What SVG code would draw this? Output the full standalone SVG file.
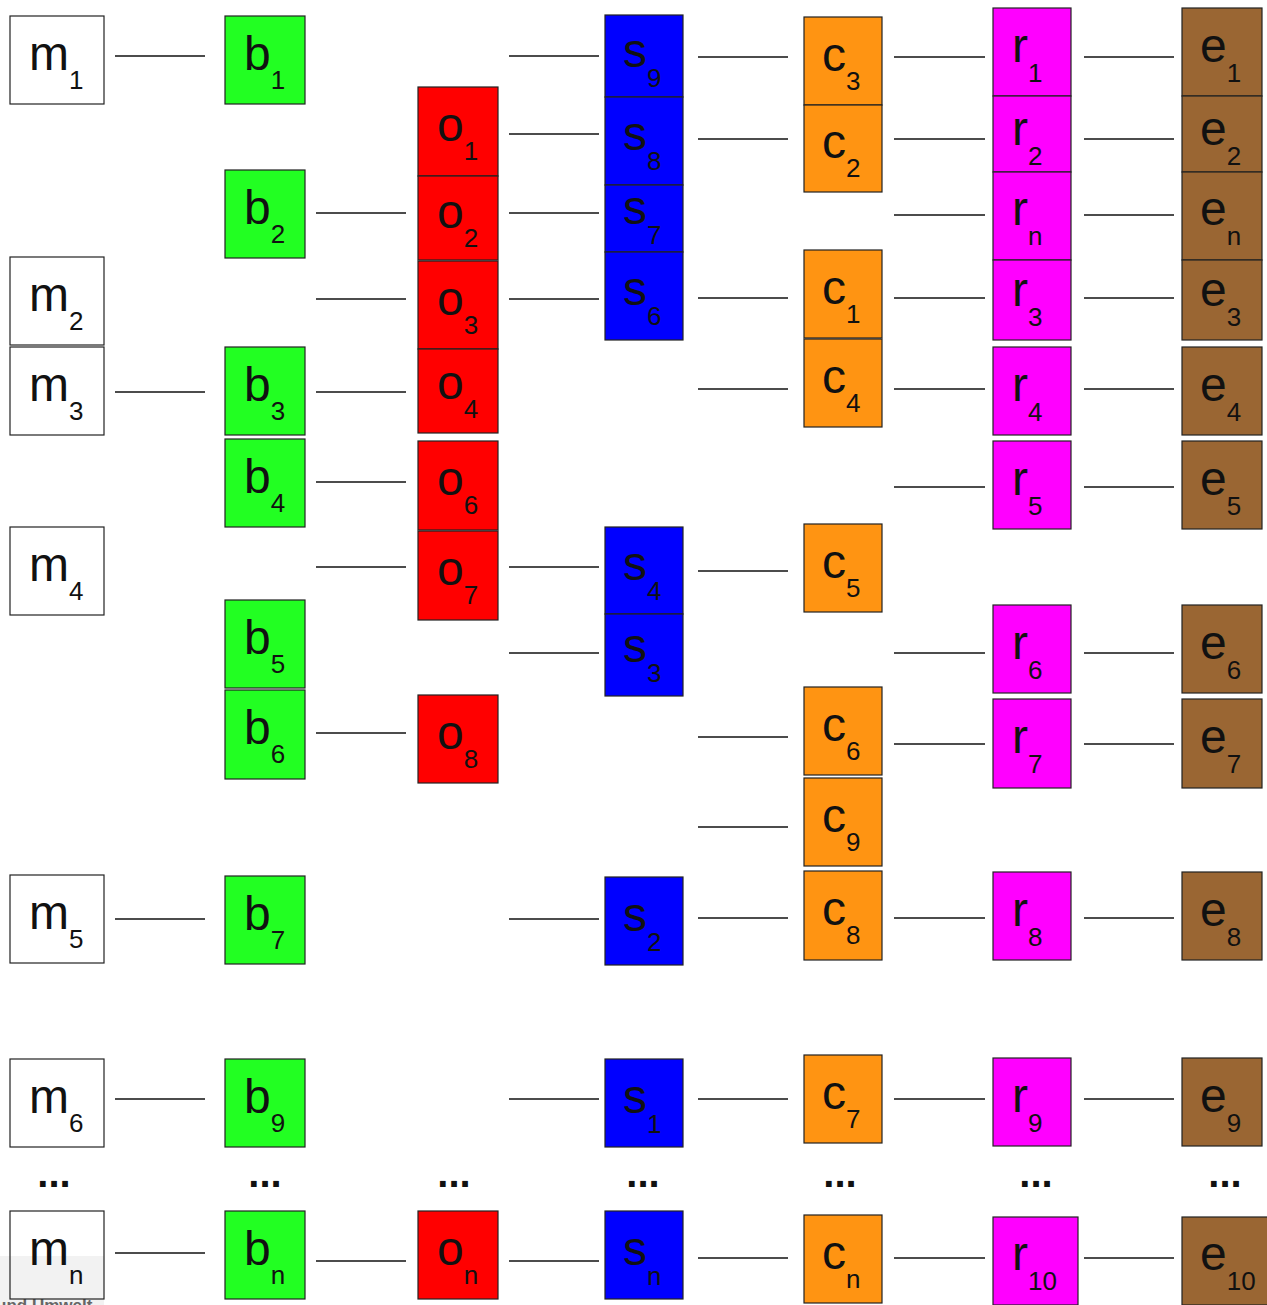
<svg xmlns="http://www.w3.org/2000/svg" width="1267" height="1305" viewBox="0 0 1267 1305">
<style>
.bx{stroke:#222;stroke-width:1.2}
.m{fill:#ffffff}
.b{fill:#22ff22}
.o{fill:#ff0000}
.s{fill:#0000ff}
.c{fill:#ff9412}
.r{fill:#ff00ff}
.e{fill:#9a6633}
.t{font-family:"Liberation Sans",Arial,sans-serif;font-size:48px;fill:#111}
.sb{font-size:26px}
.dots{font-family:"Liberation Sans",Arial,sans-serif;font-size:40px;font-weight:bold;fill:#111;text-anchor:middle}
#connectors line{stroke:#111;stroke-width:1.3}
</style>
<rect width="1267" height="1305" fill="#ffffff"/>
<!-- cut-off caption overlay band at bottom left (drawn under the m_n node) -->
<g id="caption">
<rect x="0" y="1256" width="104" height="49" fill="#f2f2f2"/>
<text x="-4" y="1311" font-family="Liberation Sans, Arial, sans-serif" font-size="17" font-weight="bold" fill="#666">und Umwelt</text>
</g>
<g id="connectors">
<line x1="115" y1="56" x2="205" y2="56"/>
<line x1="115" y1="392" x2="205" y2="392"/>
<line x1="115" y1="919" x2="205" y2="919"/>
<line x1="115" y1="1099" x2="205" y2="1099"/>
<line x1="115" y1="1253" x2="205" y2="1253"/>
<line x1="316" y1="213" x2="406" y2="213"/>
<line x1="316" y1="299" x2="406" y2="299"/>
<line x1="316" y1="392" x2="406" y2="392"/>
<line x1="316" y1="482" x2="406" y2="482"/>
<line x1="316" y1="567" x2="406" y2="567"/>
<line x1="316" y1="733" x2="406" y2="733"/>
<line x1="316" y1="1261" x2="406" y2="1261"/>
<line x1="509" y1="56" x2="599" y2="56"/>
<line x1="509" y1="134" x2="599" y2="134"/>
<line x1="509" y1="213" x2="599" y2="213"/>
<line x1="509" y1="299" x2="599" y2="299"/>
<line x1="509" y1="567" x2="599" y2="567"/>
<line x1="509" y1="653" x2="599" y2="653"/>
<line x1="509" y1="919" x2="599" y2="919"/>
<line x1="509" y1="1099" x2="599" y2="1099"/>
<line x1="509" y1="1261" x2="599" y2="1261"/>
<line x1="698" y1="57" x2="788" y2="57"/>
<line x1="698" y1="139" x2="788" y2="139"/>
<line x1="698" y1="298" x2="788" y2="298"/>
<line x1="698" y1="389" x2="788" y2="389"/>
<line x1="698" y1="571" x2="788" y2="571"/>
<line x1="698" y1="737" x2="788" y2="737"/>
<line x1="698" y1="827" x2="788" y2="827"/>
<line x1="698" y1="918" x2="788" y2="918"/>
<line x1="698" y1="1099" x2="788" y2="1099"/>
<line x1="698" y1="1258" x2="788" y2="1258"/>
<line x1="894" y1="57" x2="985" y2="57"/>
<line x1="894" y1="139" x2="985" y2="139"/>
<line x1="894" y1="215" x2="985" y2="215"/>
<line x1="894" y1="298" x2="985" y2="298"/>
<line x1="894" y1="389" x2="985" y2="389"/>
<line x1="894" y1="487" x2="985" y2="487"/>
<line x1="894" y1="653" x2="985" y2="653"/>
<line x1="894" y1="744" x2="985" y2="744"/>
<line x1="894" y1="918" x2="985" y2="918"/>
<line x1="894" y1="1099" x2="985" y2="1099"/>
<line x1="894" y1="1258" x2="985" y2="1258"/>
<line x1="1084" y1="57" x2="1174" y2="57"/>
<line x1="1084" y1="139" x2="1174" y2="139"/>
<line x1="1084" y1="215" x2="1174" y2="215"/>
<line x1="1084" y1="298" x2="1174" y2="298"/>
<line x1="1084" y1="389" x2="1174" y2="389"/>
<line x1="1084" y1="487" x2="1174" y2="487"/>
<line x1="1084" y1="653" x2="1174" y2="653"/>
<line x1="1084" y1="744" x2="1174" y2="744"/>
<line x1="1084" y1="918" x2="1174" y2="918"/>
<line x1="1084" y1="1099" x2="1174" y2="1099"/>
<line x1="1084" y1="1258" x2="1174" y2="1258"/>
</g>
<!-- m column -->
<g id="m1"><rect class="bx m" x="10" y="16" width="94" height="88"/><text class="t" x="29" y="70">m<tspan class="sb" dy="19">1</tspan></text></g>
<g id="m2"><rect class="bx m" x="10" y="257" width="94" height="88"/><text class="t" x="29" y="311">m<tspan class="sb" dy="19">2</tspan></text></g>
<g id="m3"><rect class="bx m" x="10" y="347" width="94" height="88"/><text class="t" x="29" y="401">m<tspan class="sb" dy="19">3</tspan></text></g>
<g id="m4"><rect class="bx m" x="10" y="527" width="94" height="88"/><text class="t" x="29" y="581">m<tspan class="sb" dy="19">4</tspan></text></g>
<g id="m5"><rect class="bx m" x="10" y="875" width="94" height="88"/><text class="t" x="29" y="929">m<tspan class="sb" dy="19">5</tspan></text></g>
<g id="m6"><rect class="bx m" x="10" y="1059" width="94" height="88"/><text class="t" x="29" y="1113">m<tspan class="sb" dy="19">6</tspan></text></g>
<g id="mn"><rect class="bx" x="10" y="1211" width="94" height="88" style="fill:none"/><text class="t" x="29" y="1265">m<tspan class="sb" dy="19">n</tspan></text></g>
<!-- b column -->
<g id="b1"><rect class="bx b" x="225" y="16" width="80" height="88"/><text class="t" x="244" y="70">b<tspan class="sb" dy="19">1</tspan></text></g>
<g id="b2"><rect class="bx b" x="225" y="170" width="80" height="88"/><text class="t" x="244" y="224">b<tspan class="sb" dy="19">2</tspan></text></g>
<g id="b3"><rect class="bx b" x="225" y="347" width="80" height="88"/><text class="t" x="244" y="401">b<tspan class="sb" dy="19">3</tspan></text></g>
<g id="b4"><rect class="bx b" x="225" y="439" width="80" height="88"/><text class="t" x="244" y="493">b<tspan class="sb" dy="19">4</tspan></text></g>
<g id="b5"><rect class="bx b" x="225" y="600" width="80" height="88"/><text class="t" x="244" y="654">b<tspan class="sb" dy="19">5</tspan></text></g>
<g id="b6"><rect class="bx b" x="225" y="690" width="80" height="89"/><text class="t" x="244" y="744">b<tspan class="sb" dy="19">6</tspan></text></g>
<g id="b7"><rect class="bx b" x="225" y="876" width="80" height="88"/><text class="t" x="244" y="930">b<tspan class="sb" dy="19">7</tspan></text></g>
<g id="b9"><rect class="bx b" x="225" y="1059" width="80" height="88"/><text class="t" x="244" y="1113">b<tspan class="sb" dy="19">9</tspan></text></g>
<g id="bn"><rect class="bx b" x="225" y="1211" width="80" height="88"/><text class="t" x="244" y="1265">b<tspan class="sb" dy="19">n</tspan></text></g>
<!-- o column -->
<g id="o1"><rect class="bx o" x="418" y="87" width="80" height="89"/><text class="t" x="437" y="141">o<tspan class="sb" dy="19">1</tspan></text></g>
<g id="o2"><rect class="bx o" x="418" y="176" width="80" height="84"/><text class="t" x="437" y="228">o<tspan class="sb" dy="19">2</tspan></text></g>
<g id="o3"><rect class="bx o" x="418" y="261" width="80" height="88"/><text class="t" x="437" y="315">o<tspan class="sb" dy="19">3</tspan></text></g>
<g id="o4"><rect class="bx o" x="418" y="349" width="80" height="84"/><text class="t" x="437" y="399">o<tspan class="sb" dy="19">4</tspan></text></g>
<g id="o6"><rect class="bx o" x="418" y="441" width="80" height="89"/><text class="t" x="437" y="495">o<tspan class="sb" dy="19">6</tspan></text></g>
<g id="o7"><rect class="bx o" x="418" y="531" width="80" height="89"/><text class="t" x="437" y="585">o<tspan class="sb" dy="19">7</tspan></text></g>
<g id="o8"><rect class="bx o" x="418" y="695" width="80" height="88"/><text class="t" x="437" y="749">o<tspan class="sb" dy="19">8</tspan></text></g>
<g id="on"><rect class="bx o" x="418" y="1211" width="80" height="88"/><text class="t" x="437" y="1265">o<tspan class="sb" dy="19">n</tspan></text></g>
<!-- s column -->
<g id="s9"><rect class="bx s" x="605" y="15" width="78" height="82"/><text class="t" x="623" y="67">s<tspan class="sb" dy="20">9</tspan></text></g>
<g id="s8"><rect class="bx s" x="605" y="97" width="78" height="88"/><text class="t" x="623" y="150">s<tspan class="sb" dy="20">8</tspan></text></g>
<g id="s7"><rect class="bx s" x="605" y="185" width="78" height="67"/><text class="t" x="623" y="224">s<tspan class="sb" dy="20">7</tspan></text></g>
<g id="s6"><rect class="bx s" x="605" y="252" width="78" height="88"/><text class="t" x="623" y="305">s<tspan class="sb" dy="20">6</tspan></text></g>
<g id="s4"><rect class="bx s" x="605" y="527" width="78" height="87"/><text class="t" x="623" y="580">s<tspan class="sb" dy="20">4</tspan></text></g>
<g id="s3"><rect class="bx s" x="605" y="614" width="78" height="82"/><text class="t" x="623" y="662">s<tspan class="sb" dy="20">3</tspan></text></g>
<g id="s2"><rect class="bx s" x="605" y="877" width="78" height="88"/><text class="t" x="623" y="931">s<tspan class="sb" dy="20">2</tspan></text></g>
<g id="s1"><rect class="bx s" x="605" y="1059" width="78" height="88"/><text class="t" x="623" y="1113">s<tspan class="sb" dy="20">1</tspan></text></g>
<g id="sn"><rect class="bx s" x="605" y="1211" width="78" height="88"/><text class="t" x="623" y="1265">s<tspan class="sb" dy="20">n</tspan></text></g>
<!-- c column -->
<g id="c3"><rect class="bx c" x="804" y="17" width="78" height="88"/><text class="t" x="822" y="71">c<tspan class="sb" dy="19">3</tspan></text></g>
<g id="c2"><rect class="bx c" x="804" y="105" width="78" height="87"/><text class="t" x="822" y="158">c<tspan class="sb" dy="19">2</tspan></text></g>
<g id="c1"><rect class="bx c" x="804" y="250" width="78" height="88"/><text class="t" x="822" y="304">c<tspan class="sb" dy="19">1</tspan></text></g>
<g id="c4"><rect class="bx c" x="804" y="339" width="78" height="88"/><text class="t" x="822" y="393">c<tspan class="sb" dy="19">4</tspan></text></g>
<g id="c5"><rect class="bx c" x="804" y="524" width="78" height="88"/><text class="t" x="822" y="578">c<tspan class="sb" dy="19">5</tspan></text></g>
<g id="c6"><rect class="bx c" x="804" y="687" width="78" height="88"/><text class="t" x="822" y="741">c<tspan class="sb" dy="19">6</tspan></text></g>
<g id="c9"><rect class="bx c" x="804" y="778" width="78" height="88"/><text class="t" x="822" y="832">c<tspan class="sb" dy="19">9</tspan></text></g>
<g id="c8"><rect class="bx c" x="804" y="871" width="78" height="89"/><text class="t" x="822" y="925">c<tspan class="sb" dy="19">8</tspan></text></g>
<g id="c7"><rect class="bx c" x="804" y="1055" width="78" height="88"/><text class="t" x="822" y="1109">c<tspan class="sb" dy="19">7</tspan></text></g>
<g id="cn"><rect class="bx c" x="804" y="1215" width="78" height="88"/><text class="t" x="822" y="1269">c<tspan class="sb" dy="19">n</tspan></text></g>
<!-- r column -->
<g id="r1"><rect class="bx r" x="993" y="8" width="78" height="88"/><text class="t" x="1012" y="62">r<tspan class="sb" dy="20">1</tspan></text></g>
<g id="r2"><rect class="bx r" x="993" y="96" width="78" height="76"/><text class="t" x="1012" y="145">r<tspan class="sb" dy="20">2</tspan></text></g>
<g id="rn"><rect class="bx r" x="993" y="172" width="78" height="88"/><text class="t" x="1012" y="225">r<tspan class="sb" dy="20">n</tspan></text></g>
<g id="r3"><rect class="bx r" x="993" y="260" width="78" height="80"/><text class="t" x="1012" y="306">r<tspan class="sb" dy="20">3</tspan></text></g>
<g id="r4"><rect class="bx r" x="993" y="347" width="78" height="88"/><text class="t" x="1012" y="401">r<tspan class="sb" dy="20">4</tspan></text></g>
<g id="r5"><rect class="bx r" x="993" y="441" width="78" height="88"/><text class="t" x="1012" y="495">r<tspan class="sb" dy="20">5</tspan></text></g>
<g id="r6"><rect class="bx r" x="993" y="605" width="78" height="88"/><text class="t" x="1012" y="659">r<tspan class="sb" dy="20">6</tspan></text></g>
<g id="r7"><rect class="bx r" x="993" y="699" width="78" height="89"/><text class="t" x="1012" y="753">r<tspan class="sb" dy="20">7</tspan></text></g>
<g id="r8"><rect class="bx r" x="993" y="872" width="78" height="88"/><text class="t" x="1012" y="926">r<tspan class="sb" dy="20">8</tspan></text></g>
<g id="r9"><rect class="bx r" x="993" y="1058" width="78" height="88"/><text class="t" x="1012" y="1112">r<tspan class="sb" dy="20">9</tspan></text></g>
<g id="r10"><rect class="bx r" x="993" y="1217" width="85" height="88"/><text class="t" x="1012" y="1270">r<tspan class="sb" dy="20">10</tspan></text></g>
<!-- e column -->
<g id="e1"><rect class="bx e" x="1182" y="8" width="80" height="88"/><text class="t" x="1200" y="62">e<tspan class="sb" dy="20">1</tspan></text></g>
<g id="e2"><rect class="bx e" x="1182" y="96" width="80" height="76"/><text class="t" x="1200" y="145">e<tspan class="sb" dy="20">2</tspan></text></g>
<g id="en"><rect class="bx e" x="1182" y="172" width="80" height="88"/><text class="t" x="1200" y="225">e<tspan class="sb" dy="20">n</tspan></text></g>
<g id="e3"><rect class="bx e" x="1182" y="260" width="80" height="80"/><text class="t" x="1200" y="306">e<tspan class="sb" dy="20">3</tspan></text></g>
<g id="e4"><rect class="bx e" x="1182" y="347" width="80" height="88"/><text class="t" x="1200" y="401">e<tspan class="sb" dy="20">4</tspan></text></g>
<g id="e5"><rect class="bx e" x="1182" y="441" width="80" height="88"/><text class="t" x="1200" y="495">e<tspan class="sb" dy="20">5</tspan></text></g>
<g id="e6"><rect class="bx e" x="1182" y="605" width="80" height="88"/><text class="t" x="1200" y="659">e<tspan class="sb" dy="20">6</tspan></text></g>
<g id="e7"><rect class="bx e" x="1182" y="699" width="80" height="89"/><text class="t" x="1200" y="753">e<tspan class="sb" dy="20">7</tspan></text></g>
<g id="e8"><rect class="bx e" x="1182" y="872" width="80" height="88"/><text class="t" x="1200" y="926">e<tspan class="sb" dy="20">8</tspan></text></g>
<g id="e9"><rect class="bx e" x="1182" y="1058" width="80" height="88"/><text class="t" x="1200" y="1112">e<tspan class="sb" dy="20">9</tspan></text></g>
<g id="e10"><rect class="bx e" x="1182" y="1217" width="90" height="88"/><text class="t" x="1200" y="1270">e<tspan class="sb" dy="20">10</tspan></text></g>
<!-- ellipses -->
<g id="ellipses">
<text class="dots" x="54" y="1187">...</text>
<text class="dots" x="265" y="1187">...</text>
<text class="dots" x="454" y="1187">...</text>
<text class="dots" x="643" y="1187">...</text>
<text class="dots" x="840" y="1187">...</text>
<text class="dots" x="1036" y="1187">...</text>
<text class="dots" x="1225" y="1187">...</text>
</g>
</svg>
